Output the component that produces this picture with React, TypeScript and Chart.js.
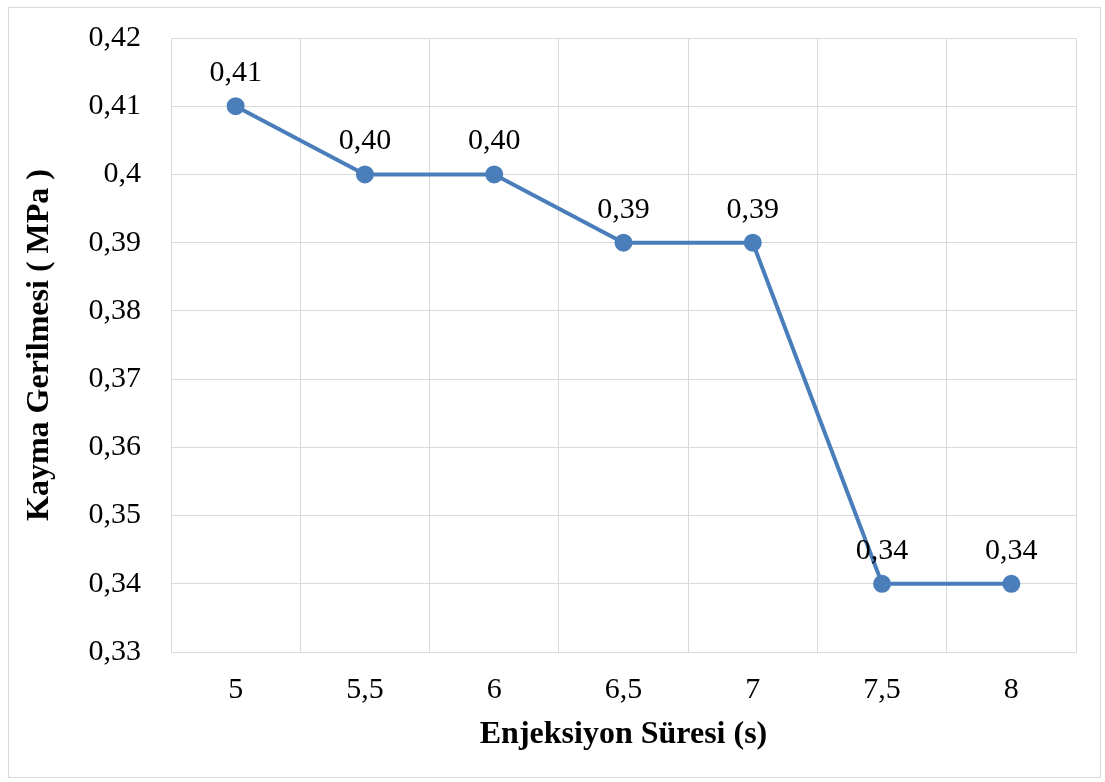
import React, { useEffect, useRef } from "react";
import { Chart, registerables } from "chart.js";

Chart.register(...registerables);

const categories = ["5", "5,5", "6", "6,5", "7", "7,5", "8"];
const shearStress = [0.41, 0.4, 0.4, 0.39, 0.39, 0.34, 0.34];
const yMin = 0.33;
const yMax = 0.42;
const yStep = 0.01;
const xTitle = "Enjeksiyon Süresi (s)";
const yTitle = "Kayma Gerilmesi ( MPa )";

const FONT = "'Liberation Serif', 'Times New Roman', serif";
const LINE_COLOR = "#4A7EBB";
const GRID_COLOR = "#D9D9D9";

const fmtTick = (v: number) => {
  const r = Math.round(v * 100) / 100;
  return String(r).replace(".", ",");
};

const labelPlugin = {
  id: "valueLabels",
  afterDatasetsDraw(chart: any) {
    const ctx = chart.ctx;
    const meta = chart.getDatasetMeta(0);
    ctx.save();
    ctx.font = `30px ${FONT}`;
    ctx.fillStyle = "#000";
    ctx.textAlign = "center";
    ctx.textBaseline = "middle";
    meta.data.forEach((pt: any, i: number) => {
      const v = chart.data.datasets[0].data[i] as number;
      ctx.fillText(v.toFixed(2).replace(".", ","), pt.x, pt.y - 33);
    });
    ctx.restore();
  },
};

const framePlugin = {
  id: "outerFrame",
  beforeDraw(chart: any) {
    const ctx = chart.ctx;
    ctx.save();
    ctx.fillStyle = "#fff";
    ctx.fillRect(0, 0, chart.width, chart.height);
    ctx.strokeStyle = GRID_COLOR;
    ctx.lineWidth = 1;
    ctx.strokeRect(8.5, 7.5, 1092, 770);
    ctx.restore();
  },
};

export default function App() {
  const ref = useRef<HTMLCanvasElement | null>(null);

  useEffect(() => {
    document.body.style.margin = "0";
    if (!ref.current) return;
    const chart = new Chart(ref.current, {
      type: "line",
      data: {
        labels: categories,
        datasets: [
          {
            data: shearStress,
            borderColor: LINE_COLOR,
            backgroundColor: LINE_COLOR,
            borderWidth: 4,
            pointRadius: 7,
            pointBackgroundColor: LINE_COLOR,
            pointBorderColor: LINE_COLOR,
            tension: 0,
          },
        ],
      },
      options: {
        responsive: false,
        animation: false,
        devicePixelRatio: 1,
        layout: { padding: { left: 0, right: 29, top: 38, bottom: 0 } },
        plugins: {
          legend: { display: false },
          tooltip: { enabled: false },
        },
        scales: {
          x: {
            offset: true,
            grid: { offset: true, color: GRID_COLOR, drawTicks: false, lineWidth: 1 },
            border: { color: GRID_COLOR },
            ticks: {
              color: "#000",
              font: { family: FONT, size: 30 },
              padding: 20,
              maxRotation: 0,
            },
            title: {
              display: true,
              text: xTitle,
              color: "#000",
              font: { family: FONT, size: 32, weight: "bold" },
              padding: { top: 0, bottom: 28 },
            },
            afterFit(scale: any) {
              scale.height = 130;
              scale.paddingLeft = 0;
              scale.paddingRight = 0;
            },
          },
          y: {
            min: yMin,
            max: yMax,
            grid: { color: GRID_COLOR, drawTicks: false, lineWidth: 1 },
            border: { color: GRID_COLOR },
            ticks: {
              stepSize: yStep,
              color: "#000",
              font: { family: FONT, size: 30 },
              padding: 30,
              callback: (v: any) => fmtTick(Number(v)),
            },
            title: {
              display: true,
              text: yTitle,
              color: "#000",
              font: { family: FONT, size: 32, weight: "bold" },
              padding: { top: 21, bottom: 0 },
            },
            afterFit(scale: any) {
              scale.width = 171;
              scale.paddingTop = 0;
              scale.paddingBottom = 0;
            },
          },
        },
      },
      plugins: [framePlugin, labelPlugin],
    });
    return () => chart.destroy();
  }, []);

  return (
    <div style={{ position: "absolute", left: 0, top: 0, width: 1105, height: 782 }}>
      <canvas ref={ref} width={1105} height={782} />
    </div>
  );
}
